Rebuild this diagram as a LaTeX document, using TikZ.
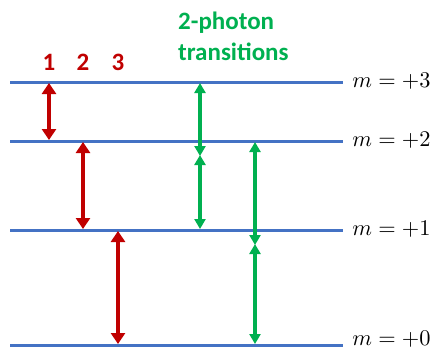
\documentclass[tikz,border=0pt]{standalone}
\usepackage{fontspec}
\newfontfamily\carlito{Carlito}
\usetikzlibrary{arrows.meta}
\definecolor{lvlblue}{HTML}{4472C4}
\definecolor{tred}{HTML}{C00000}
\definecolor{tgreen}{HTML}{00B050}
\begin{document}
\begin{tikzpicture}[x=1pt,y=-1pt,
  level/.style={draw=lvlblue,line width=3pt},
  redarrow/.style={draw=tred,line width=4pt,{Triangle[width=14pt,length=11pt]}-{Triangle[width=14pt,length=11pt]}},
  greenarrow/.style={draw=tgreen,line width=4pt,{Triangle[width=11pt,length=10pt]}-{Triangle[width=11pt,length=10pt]}},
  mlabel/.style={anchor=west,inner sep=0pt,scale=2.24},
  numlabel/.style={text=tred,inner sep=0pt,font=\carlito\bfseries\fontsize{25}{28}\selectfont},
  titlelabel/.style={text=tgreen,inner sep=0pt,align=left,font=\carlito\bfseries\fontsize{25}{31}\selectfont}]
\useasboundingbox (0,0) rectangle (431,349);
% level lines
\coordinate (L3a) at (10,82);  \coordinate (L3b) at (343,82);
\coordinate (L2a) at (10,141); \coordinate (L2b) at (343,141);
\coordinate (L1a) at (10,230); \coordinate (L1b) at (343,230);
\coordinate (L0a) at (10,345); \coordinate (L0b) at (343,345);
\draw[level] (L3a) -- (L3b);
\draw[level] (L2a) -- (L2b);
\draw[level] (L1a) -- (L1b);
\draw[level] (L0a) -- (L0b);
% labels
\node[mlabel] (m3) at (352,81) {$m=+3$};
\node[mlabel] (m2) at (352,140) {$m=+2$};
\node[mlabel] (m1) at (352,229) {$m=+1$};
\node[mlabel] (m0) at (352,339) {$m=+0$};
\node[numlabel] (n1) at (49,62) {1};
\node[numlabel] (n2) at (83,62) {2};
\node[numlabel] (n3) at (118,62) {3};
\node[titlelabel,anchor=north west] (title) at (178,12) {2-photon\\transitions};
% red single-photon arrows
\coordinate (r1t) at (49,83);  \coordinate (r1b) at (49,140);
\coordinate (r2t) at (83,142); \coordinate (r2b) at (83,229);
\coordinate (r3t) at (118,231); \coordinate (r3b) at (118,344);
\draw[redarrow] (r1t) -- (r1b);
\draw[redarrow] (r2t) -- (r2b);
\draw[redarrow] (r3t) -- (r3b);
% green two-photon arrows
\coordinate (g1t) at (200,83);  \coordinate (g1m) at (200,155.5); \coordinate (g1b) at (200,229);
\coordinate (g2t) at (255,142); \coordinate (g2m) at (255,244.5); \coordinate (g2b) at (255,344);
\draw[greenarrow] (g1t) -- ([yshift=-0.5pt]g1m);
\draw[greenarrow] ([yshift=0.5pt]g1m) -- (g1b);
\draw[greenarrow] (g2t) -- ([yshift=-0.5pt]g2m);
\draw[greenarrow] ([yshift=0.5pt]g2m) -- (g2b);
\end{tikzpicture}
\end{document}
